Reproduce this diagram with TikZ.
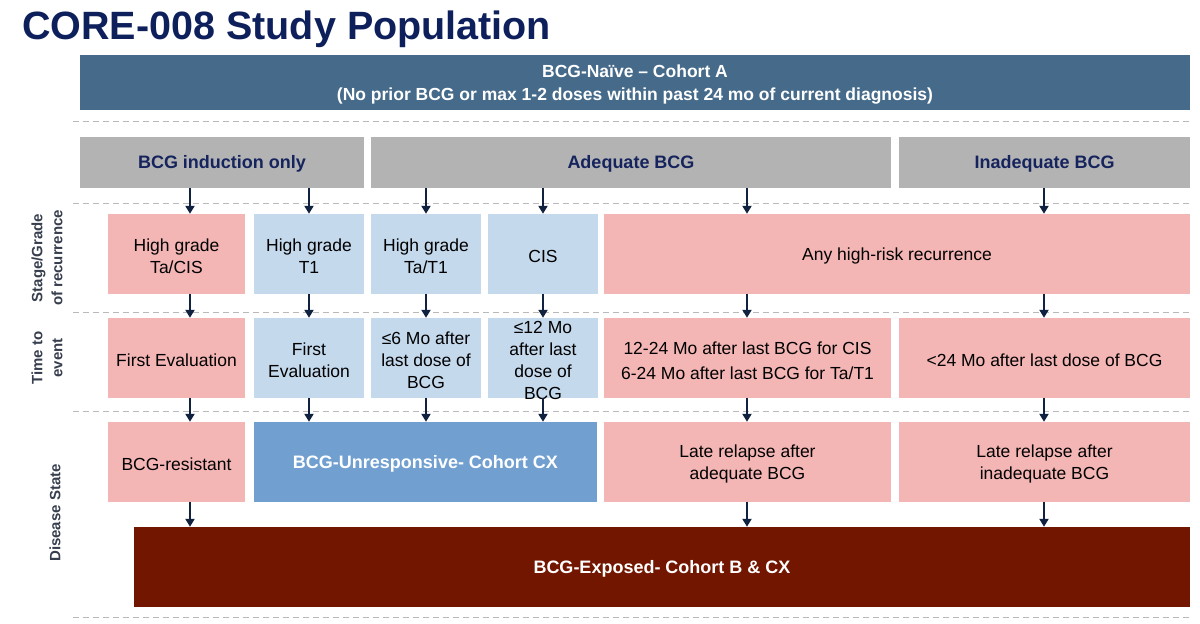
\documentclass[tikz,border=0pt]{standalone}
\usepackage{fontspec}
\setmainfont{Liberation Sans}
\usetikzlibrary{arrows.meta}
\definecolor{titlenavy}{RGB}{14,32,92}
\definecolor{barblue}{RGB}{69,106,138}
\definecolor{hdrgrey}{RGB}{179,179,179}
\definecolor{hdrtext}{RGB}{22,36,94}
\definecolor{pinkbox}{RGB}{244,182,181}
\definecolor{lblue}{RGB}{197,217,237}
\definecolor{mblue}{RGB}{113,160,208}
\definecolor{darkred}{RGB}{115,22,0}
\definecolor{arrownavy}{RGB}{16,34,64}
\definecolor{dashgrey}{RGB}{185,185,185}
\definecolor{sidetext}{RGB}{55,62,78}
\newcommand{\cellstrut}{\rule{0pt}{17.5pt}}
\tikzset{
  boxbase/.style={rectangle, inner sep=0pt, align=center, font=\fontsize{17.5}{22}\selectfont},
  hdrbox/.style={boxbase, fill=hdrgrey, text=hdrtext, minimum height=51pt, font=\fontsize{18}{22}\selectfont\bfseries},
  pinkcell/.style={boxbase, fill=pinkbox, text=black, minimum height=80pt},
  bluecell/.style={boxbase, fill=lblue, text=black, minimum height=80pt},
  sidelabel/.style={rotate=90, align=center, text=sidetext, font=\fontsize{15}{20}\selectfont\bfseries},
  flow/.style={draw=arrownavy, line width=2pt, -{Triangle[width=9pt,length=8pt]}},
  sep/.style={draw=dashgrey, line width=1pt, dash pattern=on 6pt off 4pt}
}
\begin{document}
\begin{tikzpicture}[x=1pt,y=-1pt]
\useasboundingbox (0,0) rectangle (1200,624);
% separators
\foreach \yy in {121,203,312,411,617} {\path[sep] (73,\yy) -- (1190,\yy);}
% title
\node[anchor=base west, inner sep=0pt, text=titlenavy, font=\fontsize{39.5}{44}\selectfont\bfseries] (title) at (22,39.5) {CORE-008 Study Population};
% top bar
\node[rectangle, inner sep=0pt, fill=barblue, minimum width=1110pt, minimum height=55pt, text=white, align=center, font=\fontsize{17.5}{23}\selectfont\bfseries] (naive) at (635,82.5) {\rule{0pt}{16pt}BCG-Naïve – Cohort A\\(No prior BCG or max 1-2 doses within past 24 mo of current diagnosis)};
% headers
\node[hdrbox, minimum width=284pt] (hdr1) at (222,162.5) {\rule{0pt}{15pt}BCG induction only};
\node[hdrbox, minimum width=520pt] (hdr2) at (631,162.5) {\rule{0pt}{15pt}Adequate BCG};
\node[hdrbox, minimum width=291pt] (hdr3) at (1044.5,162.5) {\rule{0pt}{15pt}Inadequate BCG};
% row 1
\node[pinkcell, minimum width=137pt] (r1a) at (176.5,254) {\cellstrut High grade\\Ta/CIS};
\node[bluecell, minimum width=110pt] (r1b) at (309,254) {\cellstrut High grade\\T1};
\node[bluecell, minimum width=110pt] (r1c) at (426,254) {\cellstrut High grade\\Ta/T1};
\node[bluecell, minimum width=110pt] (r1d) at (543,254) {\cellstrut CIS};
\node[pinkcell, minimum width=586pt] (r1e) at (897,254) {\cellstrut Any high-risk recurrence};
% row 2
\node[pinkcell, minimum width=137pt] (r2a) at (176.5,358) {\cellstrut First Evaluation};
\node[bluecell, minimum width=110pt] (r2b) at (309,358) {\cellstrut First\\Evaluation};
\node[bluecell, minimum width=110pt] (r2c) at (426,358) {\cellstrut ≤6 Mo after\\last dose of\\BCG};
\node[bluecell, minimum width=110pt, inner ysep=-4pt] (r2d) at (543,358) {\cellstrut ≤12 Mo\\after last\\dose of\\BCG};
\node[pinkcell, minimum width=287pt, font=\fontsize{17.5}{25}\selectfont] (r2e) at (747.5,358) {\cellstrut 12-24 Mo after last BCG for CIS\\6-24 Mo after last BCG for Ta/T1};
\node[pinkcell, minimum width=291pt] (r2f) at (1044.5,358) {\cellstrut <24 Mo after last dose of BCG};
% row 3
\node[pinkcell, minimum width=137pt] (r3a) at (176.5,462) {\cellstrut BCG-resistant};
\node[boxbase, fill=mblue, text=white, minimum width=343pt, minimum height=80pt, font=\fontsize{18}{22}\selectfont\bfseries] (r3b) at (425.5,462) {\cellstrut BCG-Unresponsive- Cohort CX};
\node[pinkcell, minimum width=287pt] (r3c) at (747.5,462) {\cellstrut Late relapse after\\adequate BCG};
\node[pinkcell, minimum width=291pt] (r3d) at (1044.5,462) {\cellstrut Late relapse after\\inadequate BCG};
% bottom
\node[boxbase, fill=darkred, text=white, minimum width=1056pt, minimum height=80pt, font=\fontsize{18}{22}\selectfont\bfseries] (bot) at (662,567) {\cellstrut BCG-Exposed- Cohort B \& CX};
% side labels
\node[sidelabel] (lab1) at (47,258) {Stage/Grade\\of recurrence};
\node[sidelabel] (lab2) at (47,358) {Time to\\event};
\node[sidelabel] (lab3) at (55,513) {Disease State};
% arrow columns
\coordinate (c1) at (190,0);
\coordinate (c2) at (309,0);
\coordinate (c3) at (426,0);
\coordinate (c4) at (543,0);
\coordinate (c5) at (747,0);
\coordinate (c6) at (1044,0);
% column 1
\draw[flow] (hdr1.south -| c1) -- (r1a.north -| c1);
\draw[flow] (r1a.south -| c1) -- (r2a.north -| c1);
\draw[flow] (r2a.south -| c1) -- (r3a.north -| c1);
\draw[flow] (r3a.south -| c1) -- (bot.north -| c1);
% column 2
\draw[flow] (hdr1.south -| c2) -- (r1b.north -| c2);
\draw[flow] (r1b.south -| c2) -- (r2b.north -| c2);
\draw[flow] (r2b.south -| c2) -- (r3b.north -| c2);
% column 3
\draw[flow] (hdr2.south -| c3) -- (r1c.north -| c3);
\draw[flow] (r1c.south -| c3) -- (r2c.north -| c3);
\draw[flow] (r2c.south -| c3) -- (r3b.north -| c3);
% column 4
\draw[flow] (hdr2.south -| c4) -- (r1d.north -| c4);
\draw[flow] (r1d.south -| c4) -- (r2d.north -| c4);
\draw[flow] (r2d.south -| c4) -- (r3b.north -| c4);
% column 5
\draw[flow] (hdr2.south -| c5) -- (r1e.north -| c5);
\draw[flow] (r1e.south -| c5) -- (r2e.north -| c5);
\draw[flow] (r2e.south -| c5) -- (r3c.north -| c5);
\draw[flow] (r3c.south -| c5) -- (bot.north -| c5);
% column 6
\draw[flow] (hdr3.south -| c6) -- (r1e.north -| c6);
\draw[flow] (r1e.south -| c6) -- (r2f.north -| c6);
\draw[flow] (r2f.south -| c6) -- (r3d.north -| c6);
\draw[flow] (r3d.south -| c6) -- (bot.north -| c6);
\end{tikzpicture}
\end{document}
